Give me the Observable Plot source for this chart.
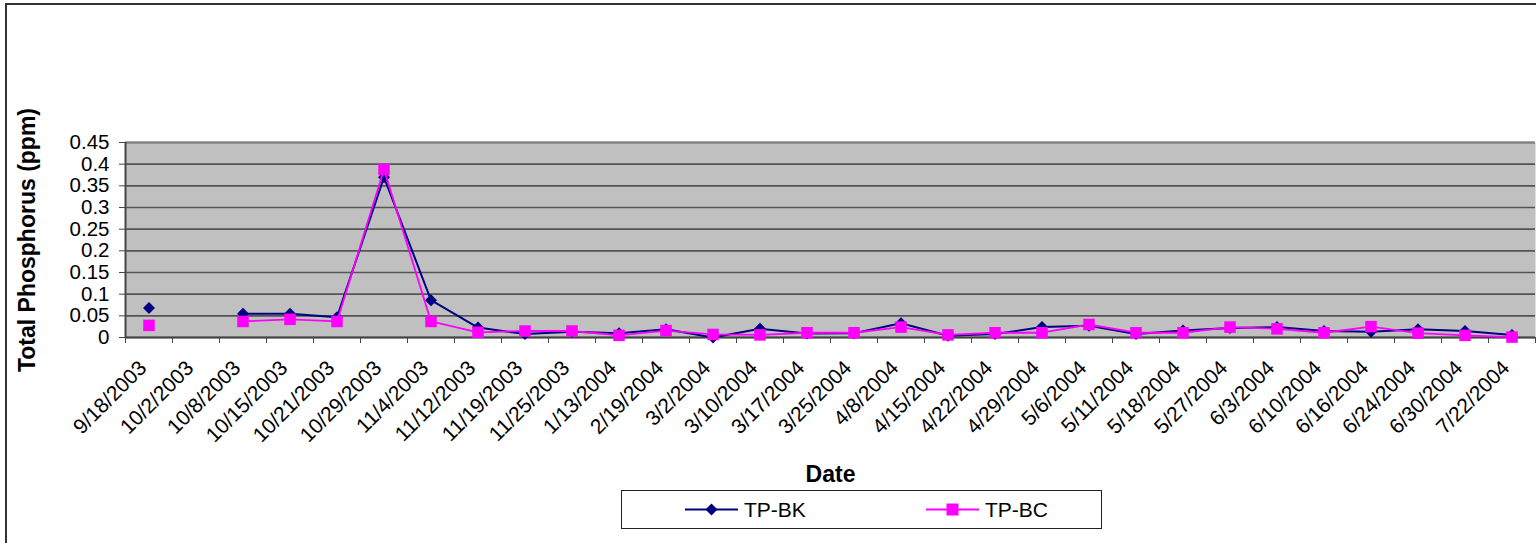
<!DOCTYPE html>
<html>
<head>
<meta charset="utf-8">
<script src="https://cdn.jsdelivr.net/npm/d3@7"></script>
<script src="https://cdn.jsdelivr.net/npm/@observablehq/plot@0.6"></script>
<style>
  html, body { margin: 0; padding: 0; background: #fff; }
  #wrap { position: relative; width: 1536px; height: 543px; overflow: hidden; font-family: "Liberation Sans", Arial, sans-serif; }
  #border { position: absolute; left: 5px; top: 3px; width: 1600px; height: 600px; border-left: 2px solid #333; border-top: 2px solid #333; }
  #chart { position: absolute; left: 0; top: 0; }
  #legend { position: absolute; left: 621px; top: 490px; width: 479px; height: 37px; border: 1px solid #222; background: #fff; }
  .item { position: absolute; top: 0; height: 37px; display: flex; align-items: center; font-size: 21px; color: #000; }
  .item svg { margin-right: 6px; }
</style>
</head>
<body>
<div id="wrap">
  <div id="border"></div>
  <div id="chart"></div>
  <div id="legend"></div>
</div>
<script>
const dates = ["9/18/2003","10/2/2003","10/8/2003","10/15/2003","10/21/2003","10/29/2003","11/4/2003","11/12/2003","11/19/2003","11/25/2003","1/13/2004","2/19/2004","3/2/2004","3/10/2004","3/17/2004","3/25/2004","4/8/2004","4/15/2004","4/22/2004","4/29/2004","5/6/2004","5/11/2004","5/18/2004","5/27/2004","6/3/2004","6/10/2004","6/16/2004","6/24/2004","6/30/2004","7/22/2004"];
const tpBK = [0.068, null, 0.055, 0.055, 0.047, 0.370, 0.086, 0.023, 0.008, 0.013, 0.010, 0.019, 0.000, 0.020, 0.009, 0.010, 0.033, 0.004, 0.008, 0.024, 0.027, 0.008, 0.016, 0.022, 0.024, 0.015, 0.013, 0.019, 0.015, 0.006];
const tpBC = [0.028, null, 0.037, 0.042, 0.037, 0.388, 0.037, 0.012, 0.015, 0.015, 0.005, 0.016, 0.007, 0.006, 0.011, 0.011, 0.024, 0.006, 0.011, 0.011, 0.030, 0.011, 0.011, 0.024, 0.020, 0.011, 0.025, 0.010, 0.005, 0.001];
const yTicks = [0, 0.05, 0.1, 0.15, 0.2, 0.25, 0.3, 0.35, 0.4, 0.45];
const seriesNames = ["TP-BK", "TP-BC"];
const seriesColors = ["#000080", "#ff00ff"];

const n = dates.length;
const rows = dates.map((d, i) => ({i, date: d, bk: tpBK[i], bc: tpBC[i]}));
const xDomain = [-0.5, n - 0.5];
const boundaries = d3.range(n + 1).map(k => k - 0.5);
const font = "Liberation Sans, Arial, sans-serif";

const plot = Plot.plot({
  width: 1536,
  height: 543,
  marginLeft: 125,
  marginRight: 1,
  marginTop: 142,
  marginBottom: 206,
  style: {fontFamily: font, color: "#000", background: "transparent", overflow: "visible"},
  x: {type: "linear", domain: xDomain, label: null},
  y: {type: "linear", domain: [0, 0.45], label: null},
  marks: [
    Plot.frame({fill: "#c0c0c0", stroke: null}),
    Plot.gridY(yTicks, {stroke: "#555", strokeOpacity: 1, strokeWidth: 1.6}),
    Plot.ruleY([0.45], {stroke: "#808080", strokeWidth: 2}),
    Plot.ruleY([0], {stroke: "#444", strokeWidth: 2}),
    Plot.ruleX([xDomain[0]], {stroke: "#444", strokeWidth: 2}),
    Plot.axisY({ticks: yTicks, tickFormat: d => String(+d.toFixed(2)), tickSize: 6, tickPadding: 10, fontSize: 20.5, label: null, stroke: "#444"}),
    Plot.axisY({ticks: [], label: "Total Phosphorus (ppm)", labelAnchor: "center", labelOffset: 107, labelArrow: "none", fontSize: 23, fontWeight: "bold"}),
    Plot.axisX({ticks: boundaries, tickFormat: () => "", tickSize: 6, label: null, stroke: "#444"}),
    Plot.axisX({ticks: d3.range(n), tickFormat: i => dates[i], tickSize: 0, tickPadding: 27, tickRotate: -45, dx: -6, fontSize: 21, label: null}),
    Plot.axisX({ticks: [], label: "Date", labelAnchor: "center", labelOffset: 144, labelArrow: "none", fontSize: 23, fontWeight: "bold"}),
    Plot.line(rows, {x: "i", y: "bk", stroke: seriesColors[0], strokeWidth: 2}),
    Plot.dot(rows, {x: "i", y: "bk", symbol: "diamond2", r: 5.4, fill: seriesColors[0], stroke: null}),
    Plot.line(rows, {x: "i", y: "bc", stroke: seriesColors[1], strokeWidth: 1.8}),
    Plot.dot(rows, {x: "i", y: "bc", symbol: "square", r: 6.5, fill: seriesColors[1], stroke: null})
  ]
});
document.getElementById("chart").appendChild(plot);

// Legend
const legend = document.getElementById("legend");
const itemLefts = [63, 304];
seriesNames.forEach((name, k) => {
  const div = document.createElement("div");
  div.className = "item";
  div.style.left = itemLefts[k] + "px";
  const sym = k === 0
    ? `<path d="M26.5,12.5 L32.5,18.5 L26.5,24.5 L20.5,18.5 Z" fill="${seriesColors[k]}"/>`
    : `<rect x="20.5" y="12.5" width="12" height="12" fill="${seriesColors[k]}"/>`;
  div.innerHTML = `<svg width="53" height="37"><line x1="0" x2="53" y1="18.5" y2="18.5" stroke="${seriesColors[k]}" stroke-width="2"/>${sym}</svg><span>${name}</span>`;
  legend.appendChild(div);
});
</script>
</body>
</html>
